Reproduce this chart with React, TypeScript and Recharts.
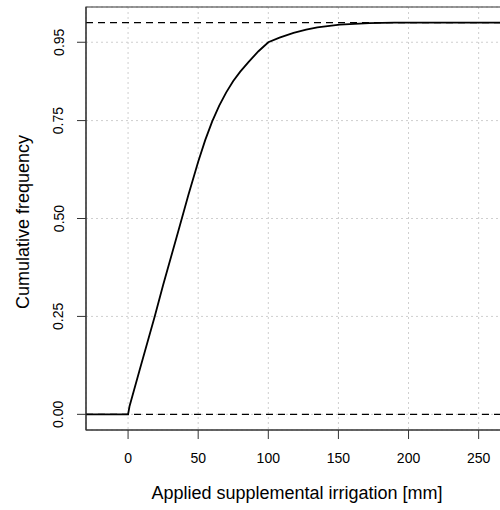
import { LineChart, Line, XAxis, YAxis, CartesianGrid, ReferenceLine, ReferenceArea, Label } from "recharts"

// ECDF of applied supplemental irrigation
const irrigation = [-30, 0, 1, 8, 19, 25, 36, 43, 50, 55, 60, 65, 70, 75, 80, 86, 93, 100, 108, 118, 127, 135, 151, 172, 190, 270]
const cumFreq = [0, 0, 0.02, 0.11, 0.25, 0.33, 0.47, 0.56, 0.645, 0.7, 0.748, 0.788, 0.822, 0.851, 0.875, 0.9, 0.927, 0.95, 0.962, 0.974, 0.982, 0.988, 0.995, 0.999, 1, 1]

const xTicks = [0, 50, 100, 150, 200, 250]
const yTicks = [0, 0.25, 0.5, 0.75, 0.95]
const yTickLabels = ["0.00", "0.25", "0.50", "0.75", "0.95"]
const xRange = [-30, 269.5]
const yRange = [-0.04, 1.04]

const data = irrigation.map((x, i) => ({ x, y: cumFreq[i] }))

const font = "'Liberation Sans', Arial, Helvetica, sans-serif"
const axisColor = "#333"

const XTick = ({ x, y, payload }: any) => (
  <text x={x} y={y} dy={22} textAnchor="middle" fontSize={14} fill="#000" fontFamily={font}>
    {payload.value}
  </text>
)

const YTick = ({ x, y, payload }: any) => {
  const i = yTicks.indexOf(payload.value)
  const cx = x - 11.5
  return (
    <text x={cx} y={y} transform={`rotate(-90 ${cx} ${y})`} textAnchor="middle" fontSize={14} fill="#000" fontFamily={font}>
      {i >= 0 ? yTickLabels[i] : payload.value}
    </text>
  )
}

// the original figure is cropped on the right, so the plot box runs past the edge
const App = () => {
  return (
    <div style={{ position: "absolute", left: 0, top: 0, width: 500, height: 510, overflow: "hidden", background: "#fff" }}>
      <LineChart width={506} height={510} data={data} margin={{ top: 7, right: 0, bottom: 0, left: 0 }}>
        <CartesianGrid stroke="#cfcfcf" strokeDasharray="2 3" />
        <XAxis
          dataKey="x"
          type="number"
          domain={xRange}
          ticks={xTicks}
          allowDataOverflow
          height={80}
          tickSize={9}
          tickMargin={2}
          tick={<XTick />}
          stroke={axisColor}
          interval={0}
        >
          <Label
            content={() => (
              <text x={297} y={499} textAnchor="middle" fontSize={18} fill="#000" fontFamily={font}>
                Applied supplemental irrigation [mm]
              </text>
            )}
          />
        </XAxis>
        <YAxis
          type="number"
          domain={yRange}
          ticks={yTicks}
          allowDataOverflow
          width={86}
          tickSize={9}
          tickMargin={2}
          tick={<YTick />}
          stroke={axisColor}
          interval={0}
        >
          <Label
            content={() => (
              <text x={29} y={222} transform="rotate(-90 29 222)" textAnchor="middle" fontSize={18} fill="#000" fontFamily={font}>
                Cumulative frequency
              </text>
            )}
          />
        </YAxis>
        {/* plot box */}
        <ReferenceArea
          x1={xRange[0]}
          x2={xRange[1]}
          y1={yRange[0]}
          y2={yRange[1]}
          fill="none"
          fillOpacity={0}
          stroke={axisColor}
          strokeWidth={1.2}
          ifOverflow="visible"
        />
        <ReferenceLine y={0} stroke="#000" strokeDasharray="7 5" strokeWidth={1.4} />
        <ReferenceLine y={1} stroke="#000" strokeDasharray="7 5" strokeWidth={1.4} />
        <Line type="linear" dataKey="y" stroke="#000" strokeWidth={1.8} dot={false} isAnimationActive={false} />
      </LineChart>
    </div>
  )
}

export default App
